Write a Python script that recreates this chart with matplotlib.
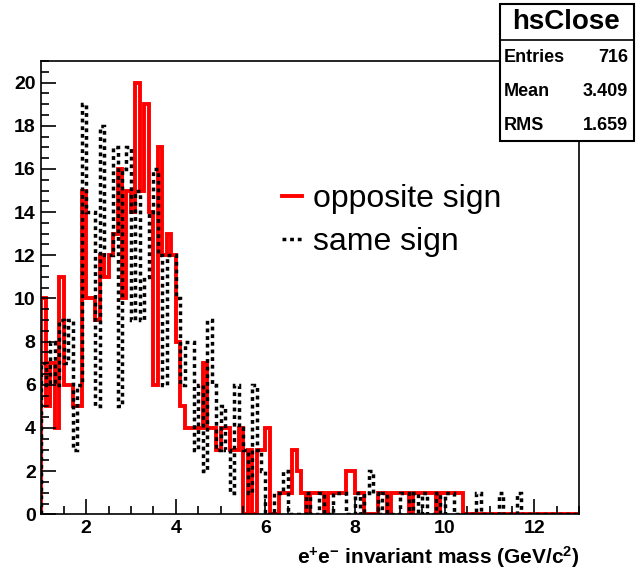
import matplotlib
matplotlib.use("Agg")
import matplotlib.pyplot as plt
import numpy as np
from matplotlib.ticker import MultipleLocator
from matplotlib.patches import Rectangle

plt.rcParams['font.family'] = ['Liberation Sans', 'DejaVu Sans']
plt.rcParams['mathtext.fontset'] = 'custom'
plt.rcParams['mathtext.rm'] = 'Liberation Sans'
plt.rcParams['mathtext.bf'] = 'Liberation Sans:bold'
plt.rcParams['mathtext.default'] = 'bf'

# bin edges: 0.1 GeV bins from 1 to 13
edges = np.round(np.arange(1.0, 13.0001, 0.1), 2)

# opposite sign (red), one row per GeV
opposite = [10, 5, 7, 4, 11, 6, 6, 5, 5, 15,
            10, 10, 9, 12, 11, 12, 13, 16, 10, 15,
            14, 20, 15, 19, 14, 6, 17, 12, 13, 12,
            8, 5, 4, 4, 4, 4, 7, 4, 4, 3,
            4, 4, 3, 3, 4, 0, 3, 0, 3, 3,
            4, 0, 0, 1, 1, 1, 3, 2, 1, 0,
            1, 1, 1, 0, 1, 1, 1, 1, 2, 2,
            1, 1, 0, 0, 0, 1, 1, 0, 1, 1,
            1, 1, 0, 1, 1, 1, 1, 1, 0, 1,
            1, 1, 1, 1, 0, 0, 0, 0, 0, 0,
            0, 0, 0, 0, 0, 0, 0, 0, 0, 0,
            0, 0, 0, 0, 0, 0, 0, 0, 0, 0]

# same sign (black dashed)
same = [7, 6, 8, 6, 9, 7, 9, 3, 6, 19,
        14, 14, 5, 18, 12, 12, 17, 5, 16, 17,
        9, 15, 9, 11, 14, 16, 12, 6, 12, 12,
        10, 6, 8, 8, 3, 6, 2, 9, 6, 3,
        5, 3, 1, 6, 4, 3, 1, 6, 3, 2,
        0, 0, 1, 1, 2, 0, 0, 0, 0, 1,
        0, 0, 1, 0, 0, 1, 1, 1, 0, 0,
        1, 0, 1, 2, 1, 0, 1, 0, 0, 0,
        1, 1, 0, 1, 0, 1, 0, 0, 1, 0,
        1, 1, 0, 0, 0, 0, 0, 1, 0, 0,
        0, 0, 1, 0, 0, 0, 1, 0, 0, 0,
        0, 0, 0, 0, 0, 0, 0, 0, 0, 0]

stats = [("Entries", "716"), ("Mean", "3.409"), ("RMS", "1.659")]

W, H = 636, 577
fig = plt.figure(figsize=(W / 100, H / 100), dpi=100)
ax = fig.add_axes([41.3 / W, 1 - 514.3 / H, (579.3 - 41.3) / W, (514.3 - 61) / H])

ax.stairs(opposite, edges, color="#ff0000", lw=2.8, label="opposite sign")
ax.stairs(same, edges, color="black", lw=2.5, linestyle=(0, (1.1, 1.1)), label="same sign")

ax.set_xlim(1, 13)
ax.set_ylim(0, 21)
ax.xaxis.set_major_locator(MultipleLocator(2))
ax.xaxis.set_minor_locator(MultipleLocator(0.5))
ax.yaxis.set_major_locator(MultipleLocator(2))
ax.yaxis.set_minor_locator(MultipleLocator(0.5))
ax.tick_params(which="both", direction="in", width=1.2, labelsize=14)
ax.tick_params(which="major", length=11)
ax.tick_params(which="minor", length=5.5)
ax.tick_params(axis="x", pad=4)
ax.tick_params(axis="y", pad=4)
for lab in ax.get_xticklabels() + ax.get_yticklabels():
    lab.set_fontweight("bold")
for s in ax.spines.values():
    s.set_linewidth(1.2)

ax.set_xlabel(r"e$^{+}$e$^{-}$ invariant mass (GeV/c$^{2}$)", fontsize=15,
              fontweight="bold", loc="right", labelpad=5)

leg = ax.legend(loc="upper left", bbox_to_anchor=(282 / W, 1 - 184 / H),
                bbox_transform=fig.transFigure, frameon=False, fontsize=23,
                handlelength=0.62, handletextpad=0.34, labelspacing=0.4,
                borderpad=0, borderaxespad=0)

# stats box drawn in pixel coordinates
ov = fig.add_axes([0, 0, 1, 1])
ov.set_xlim(0, W)
ov.set_ylim(H, 0)
ov.axis("off")
ov.add_patch(Rectangle((499.5, 3.5), 134, 137, facecolor="white",
                       edgecolor="black", lw=1.5))
ov.plot([499.5, 633.5], [39.5, 39.5], color="black", lw=1.2)
ov.text(566, 22, "hsClose", ha="center", va="center", fontsize=20,
        fontweight="bold")
for i, (name, val) in enumerate(stats):
    y = 57 + 34.5 * i
    ov.text(504, y, name, ha="left", va="center", fontsize=13, fontweight="bold")
    ov.text(628, y, val, ha="right", va="center", fontsize=13, fontweight="bold")

fig.savefig("out.png", dpi=100)
